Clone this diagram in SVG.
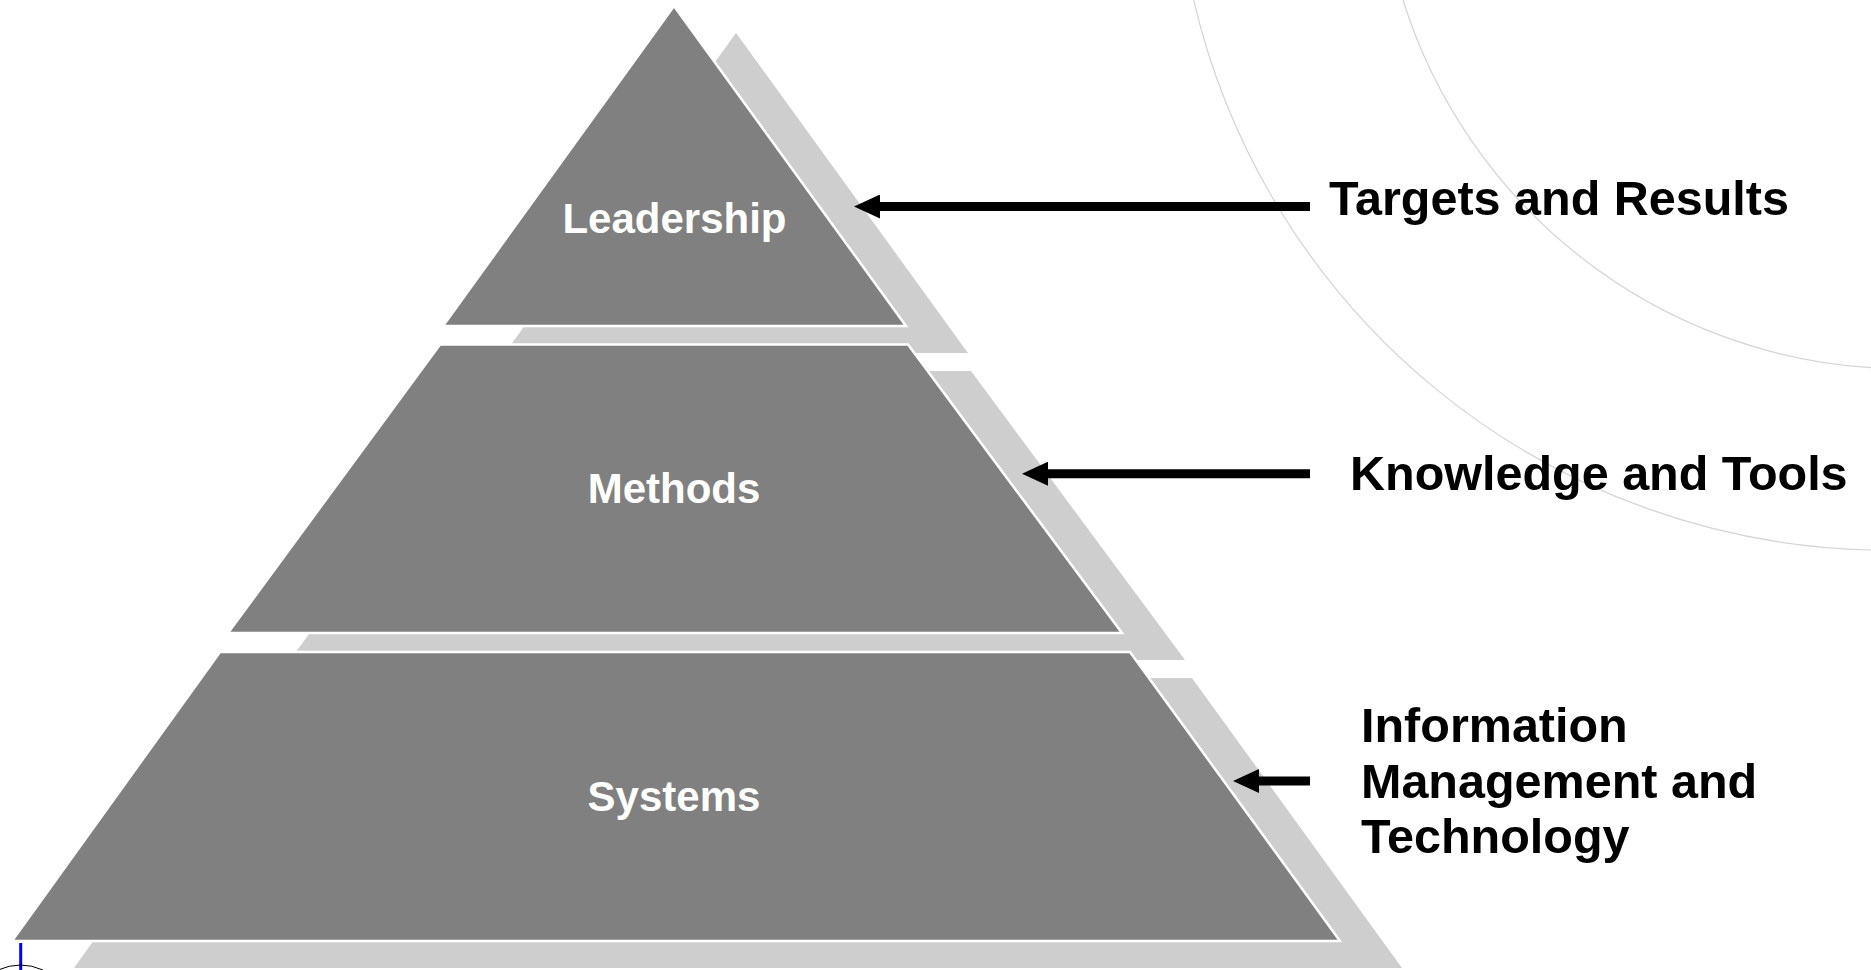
<svg xmlns="http://www.w3.org/2000/svg" width="1871" height="970" viewBox="0 0 1871 970">
<style>
.bg{fill:#ffffff}
.arc{fill:none;stroke:#d4d4d4;stroke-width:1.2}
.shadow{fill:#cecece}
.tier{fill:#808080;stroke:#ffffff;stroke-width:2.5;stroke-linejoin:miter}
.tl{font-family:"Liberation Sans",Arial,sans-serif;font-weight:bold;font-size:42px;fill:#ffffff;text-anchor:middle}
.lbl{font-family:"Liberation Sans",Arial,sans-serif;font-weight:bold;font-size:48.5px;fill:#000000}
.conn{stroke:#000000;stroke-width:9;fill:none}
</style>
<defs>
<marker id="ah" markerUnits="userSpaceOnUse" markerWidth="26" markerHeight="24" refX="0" refY="12" orient="auto" viewBox="0 0 26 24">
<path d="M0,0 L26,12 L0,24 z" fill="#000000"/>
</marker>
</defs>
<rect class="bg" x="0" y="0" width="1871" height="970"/>
<g id="background-arcs">
<path class="arc" d="M1193.7,0 A712,712 0 0 0 1871,550"/>
<path class="arc" d="M1403,0 A526,526 0 0 0 1871,367.7"/>
</g>
<g id="shadows">
<polygon class="shadow" points="736,33 968,353 505,353"/>
<polygon class="shadow" points="502,371 971,371 1185,660 290,660"/>
<polygon class="shadow" points="282,678 1192,678 1402,968 74,968"/>
</g>
<g id="leadership">
<polygon class="tier" points="674,6 906,326 443,326"/>
<text class="tl" x="674.5" y="233">Leadership</text>
</g>
<g id="methods">
<polygon class="tier" points="440,344.5 908,344.5 1122,633 228,633"/>
<text class="tl" x="674" y="503">Methods</text>
</g>
<g id="systems">
<polygon class="tier" points="220,652 1130,652 1340,941 12,941"/>
<text class="tl" x="674" y="811">Systems</text>
</g>
<g id="connectors">
<line class="conn" x1="1310" y1="206.5" x2="880" y2="206.5" marker-end="url(#ah)"/>
<line class="conn" x1="1310" y1="473.7" x2="1048" y2="473.7" marker-end="url(#ah)"/>
<line class="conn" x1="1310" y1="781" x2="1259" y2="781" marker-end="url(#ah)"/>
</g>
<g id="label-targets">
<text class="lbl" x="1329" y="215">Targets and Results</text>
</g>
<g id="label-knowledge">
<text class="lbl" x="1350" y="490">Knowledge and Tools</text>
</g>
<g id="label-information">
<text class="lbl" x="1361" y="742">Information</text>
<text class="lbl" x="1361" y="797.5">Management and</text>
<text class="lbl" x="1361" y="853">Technology</text>
</g>
<g id="corner-mark">
<line x1="20.7" y1="943" x2="20.7" y2="970" stroke="#0000ff" stroke-width="3"/>
<path d="M-2,970 Q20.7,960 43,970" fill="none" stroke="#000000" stroke-width="1"/>
</g>
</svg>
